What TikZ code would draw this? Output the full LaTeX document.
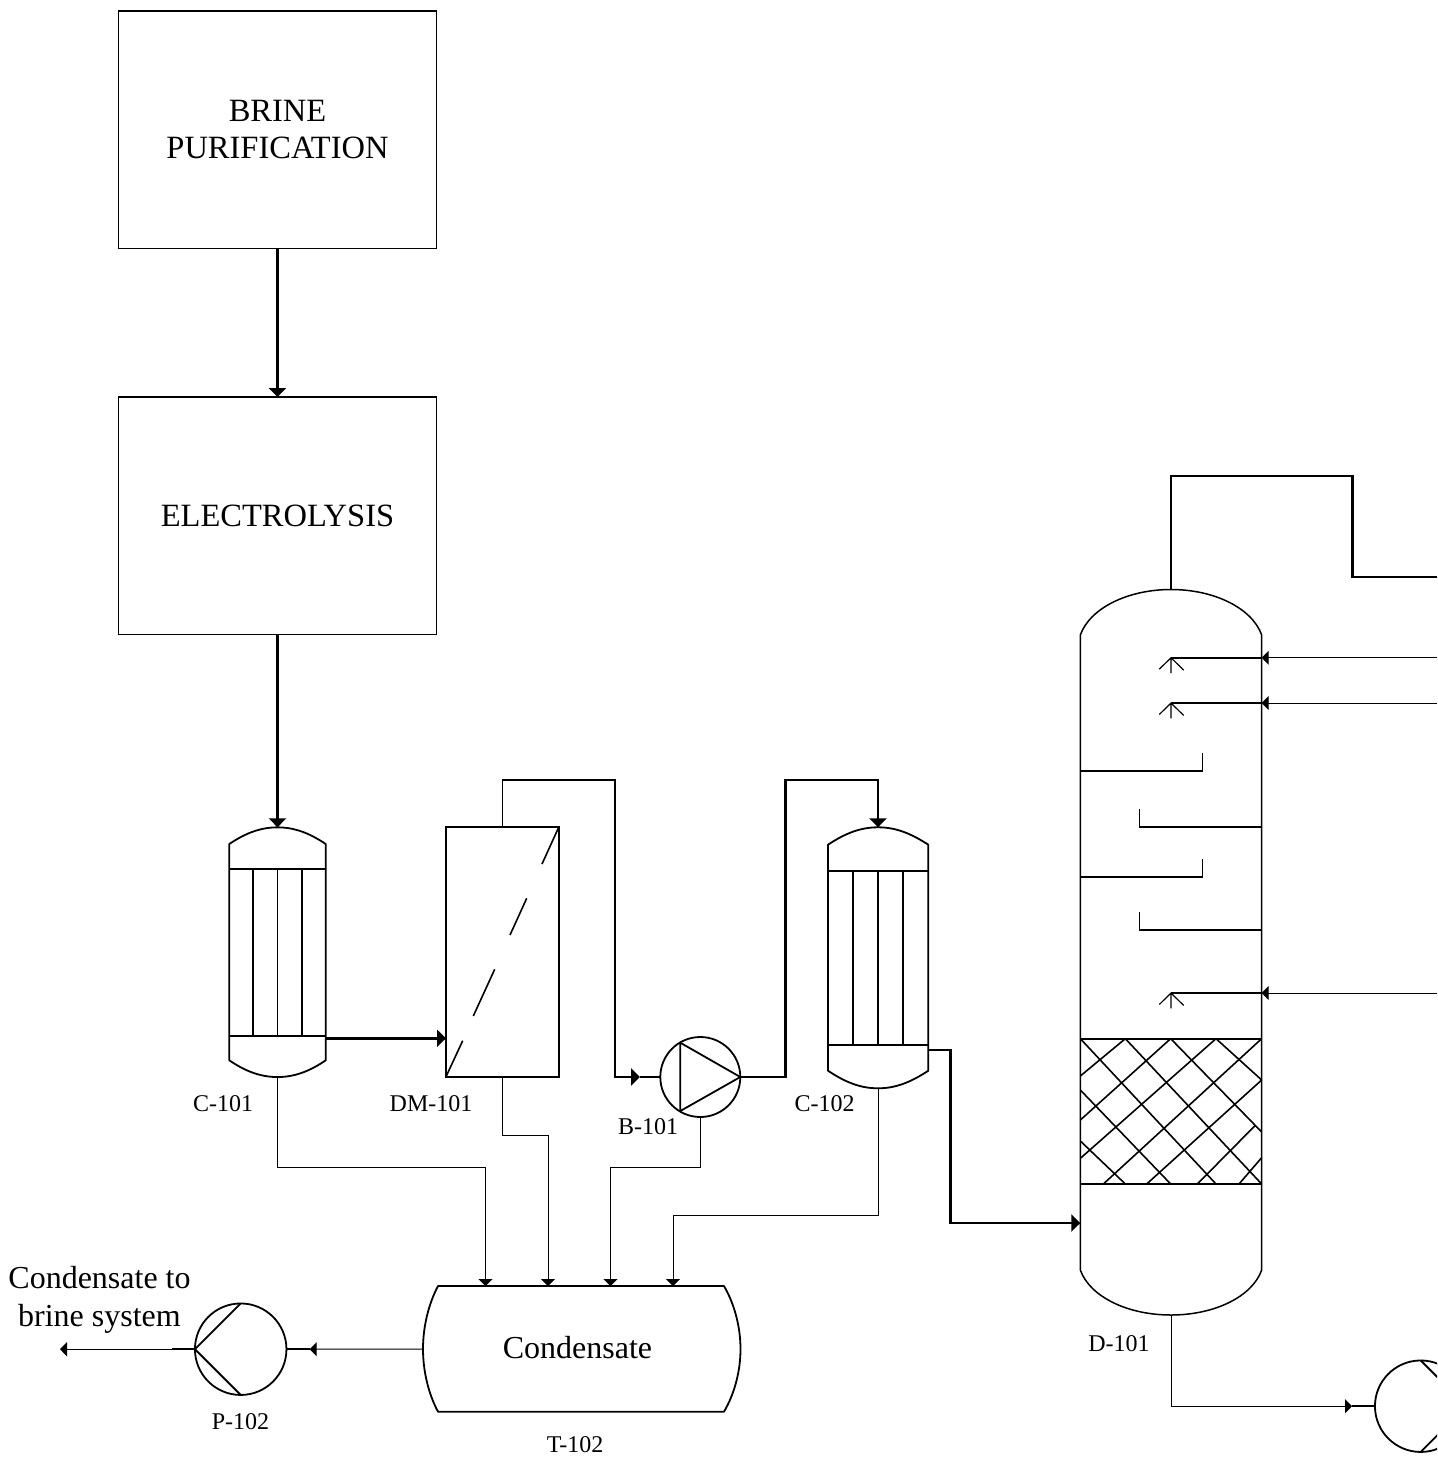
\documentclass[tikz,border=0pt]{standalone}
\usepackage{fontspec}
\setmainfont{Liberation Serif}
\usetikzlibrary{arrows.meta}
\tikzset{
  x=1pt,y=-1pt,
  every node/.style={inner sep=0pt,outer sep=0pt},
  big/.style={font=\fontsize{32}{38}\selectfont,align=center},
  boxtext/.style={font=\fontsize{32.5}{37}\selectfont,align=center},
  tag/.style={font=\fontsize{24}{28}\selectfont},
  unit/.style={draw,line width=1.8pt,rectangle,minimum width=#1},
  anchorbox/.style={rectangle},
  pumpc/.style={draw,circle,line width=1.8pt,minimum size=#1},
  shell/.style={line width=1.8pt,line join=round},
  hair/.style={line width=1pt},
  mid/.style={line width=1.6pt},
  heavy/.style={line width=2.8pt,line join=miter},
  tipbig/.style={-{Triangle[length=9pt,width=17pt]}},
  tipsmall/.style={-{Triangle[length=7pt,width=14pt]}},
  hatch/.style={line width=1.6pt},
}
\begin{document}
\begin{tikzpicture}
\useasboundingbox (0,0) rectangle (1437,1461);
\clip (0,0) rectangle (1437,1461);
\fill[white] (0,0) rectangle (1437,1461);

% ---- process boxes
\node[unit=318pt,minimum height=237.5pt,boxtext] (brine) at (277.5,129.75) {BRINE\\PURIFICATION};
\node[unit=318pt,minimum height=237.5pt,boxtext] (elec) at (277.5,515.75) {ELECTROLYSIS};

% ---- condenser C-101
\node[anchorbox,minimum width=96.4pt,minimum height=249.7pt] (c101) at (277.5,952.2) {};
\draw[shell] (229.3,844) .. controls (245,833.5) and (260,827.3) .. (c101.north)
  .. controls (295,827.3) and (310,833.5) .. (325.7,844) -- (325.7,1060.3)
  .. controls (310,1071) and (295,1077) .. (c101.south)
  .. controls (260,1077) and (245,1071) .. (229.3,1060.3) -- cycle;
\draw[shell] (229.3,869) -- (325.7,869) (229.3,1035.7) -- (325.7,1035.7)
  (253.3,869) -- (253.3,1035.7) (277.5,869) -- (277.5,1035.7) (301.7,869) -- (301.7,1035.7);
\node[tag] (c101t) at (223,1104) {C-101};

% ---- membrane DM-101
\node[unit=112.7pt,minimum height=249.5pt] (dm) at (502.35,952.1) {};
\draw[line width=1.6pt] (446,1076.7) -- (462.7,1040.7) (473.3,1016) -- (494.7,969.3)
  (510,935) -- (526.7,898.3) (542,864) -- (558.7,827.3);
\node[tag] (dmt) at (431,1104) {DM-101};

% ---- blower B-101
\node[pumpc=80pt] (b101) at (700.3,1077) {};
\draw[shell] (680.3,1042.7) -- (680.3,1111) -- (b101.east) -- cycle;
\node[tag] (b101t) at (648,1127) {B-101};

% ---- condenser C-102
\node[anchorbox,minimum width=100.3pt,minimum height=261pt] (c102) at (878,957.8) {};
\draw[shell] (828,844.7) .. controls (845,833.5) and (860,827.3) .. (c102.north)
  .. controls (896,827.3) and (911,833.5) .. (928.3,844.7) -- (928.3,1070.7)
  .. controls (911,1082) and (896,1088.3) .. (c102.south)
  .. controls (860,1088.3) and (845,1082) .. (828,1070.7) -- cycle;
\draw[shell] (828,870.7) -- (928.3,870.7) (828,1045) -- (928.3,1045)
  (853.3,870.7) -- (853.3,1045) (878,870.7) -- (878,1045) (903.3,870.7) -- (903.3,1045);
\node[tag] (c102t) at (824.5,1104) {C-102};

% ---- column D-101
\node[anchorbox,minimum width=181.4pt,minimum height=725.5pt] (d101) at (1171,952.25) {};
\draw[shell,line width=1.5pt] (1080.3,635) .. controls (1090,608) and (1128,589.5) .. (d101.north)
  .. controls (1214,589.5) and (1252,608) .. (1261.7,635) -- (1261.7,1270)
  .. controls (1252,1297) and (1214,1315) .. (d101.south)
  .. controls (1128,1315) and (1090,1297) .. (1080.3,1270) -- cycle;
\node[tag] (d101t) at (1119,1344) {D-101};
% trays
\draw[mid] (1080.3,771) -- (1202.3,771) -- (1202.3,753);
\draw[mid] (1261.7,827) -- (1139.3,827) -- (1139.3,808.7);
\draw[mid] (1080.3,876.7) -- (1202.3,876.7) -- (1202.3,859);
\draw[mid] (1261.7,929.7) -- (1139.3,929.7) -- (1139.3,912);
% packing
\draw[line width=2pt] (1080.3,1038.7) -- (1261.7,1038.7) (1080.3,1184) -- (1261.7,1184);
\begin{scope}[xshift=1060pt,yshift=-960pt,x=0.33333pt,y=-0.33333pt]
\draw[hatch] (61,236) -- (468,672) (196,236) -- (605,672) (332,236) -- (605,516) (468,236) -- (605,360)
  (61,390) -- (332,672) (61,543) -- (196,672);
\draw[hatch] (196,236) -- (61,348) (332,236) -- (61,480) (468,236) -- (61,595) (605,236) -- (130,672)
  (605,360) -- (260,672) (585,497) -- (412,672) (605,593) -- (537,672);
\end{scope}
% spray distributors
\coordinate (s1) at (1171,657.7);
\coordinate (s2) at (1171,703);
\coordinate (s3) at (1171,993);
\foreach \s in {s1,s2,s3}{
  \draw[line width=1.2pt] (\s) -- ++(0,15.3) (\s) -- ++(-11.7,11.5) (\s) -- ++(12.7,12.5);
}

% ---- tank T-102
\node[anchorbox,minimum width=317.5pt,minimum height=125.7pt,boxtext,font=\fontsize{32}{37}\selectfont] (t102) at (577.5,1347.5) {Condensate};
\coordinate (tkin) at (423,1349);
\draw[shell] (438,1286) -- (724,1286) .. controls (735,1305) and (740.5,1328) .. (740.5,1349)
  .. controls (740.5,1370) and (735,1393) .. (724,1411.7) -- (438,1411.7)
  .. controls (428,1393) and (423,1370) .. (tkin)
  .. controls (423,1328) and (428,1305) .. cycle;
\node[tag] (t102t) at (575,1444.5) {T-102};

% ---- pump P-102
\node[pumpc=91.5pt] (p102) at (240.7,1349.2) {};
\draw[shell] (p102.north) -- (p102.west) -- (p102.south);
\node[tag] (p102t) at (240.5,1421.5) {P-102};

% ---- pump P-101 (cut off by the page edge)
\node[pumpc=91.5pt] (p101) at (1420.7,1406.2) {};
\draw[shell] (p101.north) -- (p101.east) -- (p101.south);

% ---- text for outgoing stream
\node[big] (ctxt) at (99.5,1300) {Condensate to\\brine system};

% ---- free ends and joints
\coordinate (e1) at (1437,657.7);
\coordinate (e2) at (1437,703);
\coordinate (e3) at (1437,993);
\coordinate (e4) at (1437,577);
\coordinate (out) at (60,1349.2);
\coordinate (j1) at (172,1349.2);
\coordinate (j2) at (309.7,1349.2);
\coordinate (j3) at (1352,1406.2);
\coordinate (j4) at (640,1077);
\coordinate (j5) at (759,1077);
\coordinate (w1) at (1261.7,657.7);
\coordinate (w2) at (1261.7,703);
\coordinate (w3) at (1261.7,993);
\coordinate (d1) at (446,1038.3);
\coordinate (c1) at (325.7,1038.3);
\coordinate (c2) at (928.3,1050);
\coordinate (c3) at (1080.3,1223);
\coordinate (t1) at (485.5,1286);
\coordinate (t2) at (548,1286);
\coordinate (t3) at (610.5,1286);
\coordinate (t4) at (673,1286);

% ---- connectors
\draw[heavy,tipbig] (brine.south) -- (elec.north);
\draw[heavy,tipbig] (elec.south) -- (c101.north);
\draw[heavy,tipbig] (c1) -- (d1);
\draw[mid] (dm.north) -- (502.35,780) -- (615,780) -- (615,918);
\draw[line width=2.2pt,tipbig] (615,918) -- (615,1077) -- (j4);
\draw[mid] (j4) -- (b101.west);
\draw[mid] (b101.east) -- (j5);
\draw[heavy,tipbig] (j5) -- (785.5,1077) -- (785.5,780) -- (878,780) -- (c102.north);
\draw[heavy,tipbig] (c2) -- (950.5,1050) -- (950.5,1223) -- (c3);
\draw[heavy] (d101.north) -- (1171,476) -- (1352.5,476) -- (1352.5,577) -- (e4);
\draw[hair,tipsmall] (e1) -- (w1);
\draw[mid] (w1) -- (s1);
\draw[hair,tipsmall] (e2) -- (w2);
\draw[mid] (w2) -- (s2);
\draw[hair,tipsmall] (e3) -- (w3);
\draw[mid] (w3) -- (s3);
\draw[hair,tipsmall] (c101.south) -- (277.5,1167) -- (485.5,1167) -- (t1);
\draw[hair,tipsmall] (dm.south) -- (502.35,1135) -- (548,1135) -- (t2);
\draw[hair,tipsmall] (b101.south) -- (700.3,1167) -- (610.5,1167) -- (t3);
\draw[hair,tipsmall] (c102.south) -- (878,1215) -- (673,1215) -- (t4);
\draw[hair,tipsmall] (tkin) -- (j2);
\draw[line width=2.2pt] (j2) -- (p102.east);
\draw[line width=2.2pt] (p102.west) -- (j1);
\draw[hair,tipsmall] (j1) -- (out);
\draw[hair,tipsmall] (d101.south) -- (1171,1406.2) -- (j3);
\draw[line width=2.2pt] (j3) -- (p101.west);
\end{tikzpicture}
\end{document}
